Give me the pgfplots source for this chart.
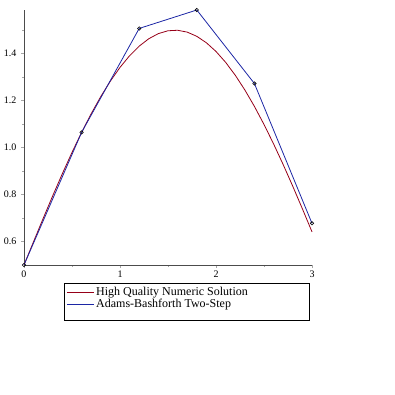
\documentclass[border=0pt]{standalone}
\usepackage{fontspec}
\setmainfont{Liberation Serif}
\usepackage{pgfplots}
\pgfplotsset{compat=1.18}
\definecolor{mred}{RGB}{150,0,24}
\definecolor{mblue}{RGB}{28,38,165}
\begin{document}
\begin{tikzpicture}
\path[use as bounding box] (-24pt,-130pt) rectangle (371pt,265pt);
\begin{axis}[
  at={(0pt,0pt)}, anchor=south west,
  scale only axis, width=288pt, height=255pt,
  xmin=0, xmax=3, ymin=0.5, ymax=1.5859,
  axis x line=bottom, axis y line=left,
  axis line style={-, black!70, line width=0.8pt},
  clip=false,
  xtick={0,1,2,3}, minor xtick={0.5,1.5,2.5},
  ytick={0.6,0.8,1.0,1.2,1.4}, minor ytick={0.7,0.9,1.1,1.3,1.5},
  yticklabels={0.6,0.8,1.0,1.2,1.4},
  tick align=outside,
  major tick length=3pt, minor tick length=2pt,
  every tick/.style={black!35, line width=0.6pt},
  /pgf/number format/assume math mode=true,
  tick label style={font=\fontsize{10}{11}\selectfont},
  xticklabel style={yshift=1pt},
  yticklabel style={xshift=-1pt},
  legend style={at={(axis description cs:0.139,-0.071)}, anchor=north west,
    draw=black, line width=0.6pt, font=\fontsize{12}{12}\selectfont,
    legend cell align=left, inner xsep=2pt, inner ysep=3.5pt, row sep=1.5pt,
    nodes={inner ysep=0.4pt, inner xsep=2pt}},
  legend image code/.code={\draw[#1, line width=0.9pt] (0pt,0pt) -- (27pt,0pt);},
]
\addplot[mred, line width=0.8pt, forget plot] coordinates {
(0.0,0.5000)(0.1,0.5998)(0.2,0.6987)(0.3,0.7955)(0.4,0.8894)(0.5,0.9794)
(0.6,1.0646)(0.7,1.1442)(0.8,1.2174)(0.9,1.2833)(1.0,1.3415)(1.1,1.3912)
(1.2,1.4320)(1.3,1.4636)(1.4,1.4854)(1.5,1.4975)(1.6,1.4996)(1.7,1.4917)
(1.8,1.4738)(1.9,1.4463)(2.0,1.4093)(2.1,1.3632)(2.2,1.3085)(2.3,1.2457)
(2.4,1.1755)(2.5,1.0985)(2.6,1.0155)(2.7,0.9274)(2.8,0.8350)(2.9,0.7392)
(3.0,0.6411)};
\addplot[mblue, line width=0.8pt, mark=o, mark size=1.7pt,
  mark options={black, line width=0.6pt}, forget plot] coordinates {
(0.0,0.5000)(0.6,1.0646)(1.2,1.5074)(1.8,1.5859)(2.4,1.2729)(3.0,0.6773)};
\addlegendimage{mred}
\addlegendentry{\makebox[209pt][l]{High Quality Numeric Solution}}
\addlegendimage{mblue}
\addlegendentry{Adams-Bashforth Two-Step}
\addlegendimage{empty legend}
\addlegendentry{\rule{0pt}{3pt}}
\end{axis}
\end{tikzpicture}
\end{document}
